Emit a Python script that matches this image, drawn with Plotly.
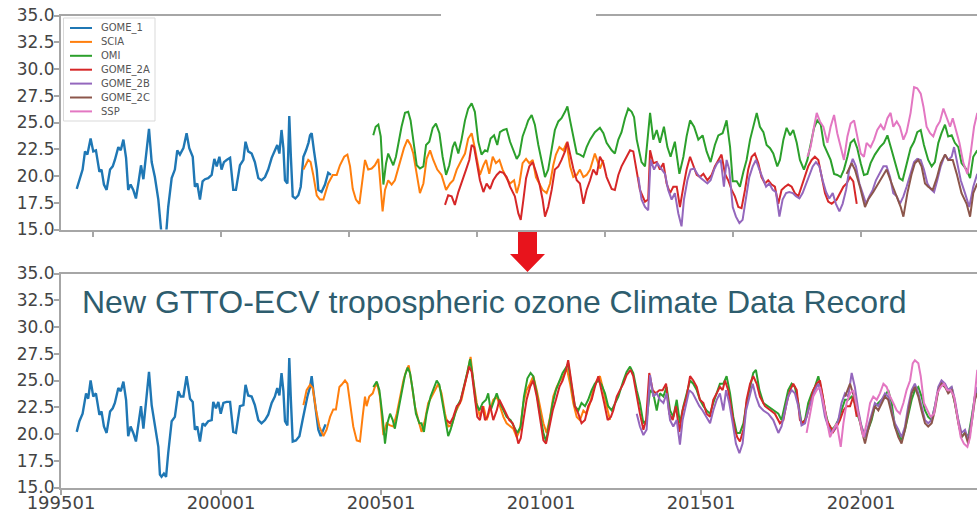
import plotly.graph_objects as go

# ---------------------------------------------------------------------------
# Monthly tropospheric ozone columns (DU). Each series is a list of
# (months since 1995-01, value) pairs.
# ---------------------------------------------------------------------------
SERIES = ["GOME_1", "SCIA", "OMI", "GOME_2A", "GOME_2B", "GOME_2C", "SSP"]
COLORS = ["#1f77b4", "#ff7f0e", "#2ca02c", "#d62728", "#9467bd", "#8c564b", "#e377c2"]

# --- individual sensor records (upper panel) ---
GOME1_RAW = [(5.9, 18.8), (6.9, 19.6), (8.1, 20.6), (9.0, 22.3), (9.9, 22.0), (11.1, 23.5), (12.1, 22.3),
             (13.1, 22.4), (14.4, 20.4), (15.2, 20.6), (16.1, 19.2), (17.1, 18.7), (18.4, 20.6), (19.4, 20.9),
             (20.2, 21.5), (21.5, 22.7), (22.4, 22.4), (23.4, 23.4), (24.4, 21.7), (25.2, 18.7), (26.1, 19.2),
             (27.1, 18.7), (28.1, 17.9), (29.0, 19.3), (30.0, 21.0), (30.9, 19.7), (31.9, 22.1), (33.0, 24.4),
             (34.0, 21.3), (35.2, 19.9), (36.5, 17.8), (37.4, 15.3), (37.7, 14.5), (39.4, 14.5), (40.2, 17.1),
             (41.5, 19.8), (42.7, 20.6), (43.6, 22.4), (44.6, 22.0), (45.9, 22.6), (47.1, 24.0), (48.1, 22.6),
             (49.4, 21.8), (50.2, 19.0), (51.1, 19.3), (52.1, 17.8), (53.1, 19.5), (54.0, 19.7), (55.2, 19.8),
             (56.5, 20.1), (57.5, 21.6), (58.4, 20.9), (59.4, 21.8), (60.2, 20.6), (61.1, 21.3), (62.1, 21.5),
             (63.4, 21.7), (64.6, 18.7), (65.6, 18.7), (67.1, 21.0), (68.4, 21.5), (69.2, 23.2), (70.2, 22.3),
             (71.5, 22.1), (72.7, 21.3), (74.0, 19.8), (75.2, 19.6), (76.5, 19.9), (77.7, 20.6), (79.0, 21.7),
             (80.2, 22.3), (81.1, 22.9), (81.9, 22.1), (82.7, 24.3), (83.4, 22.6), (84.0, 19.6), (84.9, 19.3),
             (85.6, 25.6), (86.2, 21.8), (86.9, 18.1), (87.9, 17.9), (89.0, 18.2), (89.9, 19.0), (90.9, 21.8),
             (91.9, 22.4), (92.8, 23.1), (93.4, 23.8), (94.0, 24.0), (94.9, 22.3), (95.9, 20.6), (96.5, 18.7),
             (97.7, 18.5), (99.0, 19.2), (100.2, 20.3), (101.2, 20.1)]

SCIA_RAW = [(90.9, 20.6), (92.7, 21.5), (93.6, 21.3), (94.6, 20.1), (95.9, 18.2), (97.1, 17.8), (98.4, 17.8),
            (99.2, 18.5), (100.2, 19.3), (101.9, 20.1), (103.4, 20.1), (104.6, 21.0), (106.2, 21.8), (107.4, 22.0),
            (108.4, 20.9), (109.4, 18.8), (110.6, 17.8), (111.9, 17.4), (113.1, 19.9), (114.0, 21.5), (115.2, 20.6),
            (116.5, 20.7), (117.7, 21.0), (119.0, 21.6), (120.6, 16.7), (121.5, 18.7), (122.7, 19.6), (124.0, 19.2),
            (125.2, 19.6), (126.9, 21.2), (128.6, 22.6), (129.9, 23.4), (131.1, 22.9), (132.1, 22.1), (133.4, 20.2),
            (134.6, 18.4), (135.9, 19.3), (137.1, 21.6), (138.4, 22.4), (139.6, 21.5), (141.1, 20.6), (142.7, 20.1),
            (144.4, 18.7), (145.9, 19.3), (147.1, 19.6), (148.4, 20.6), (150.2, 21.5), (151.5, 22.1), (152.7, 23.5),
            (154.0, 24.0), (155.2, 22.6), (157.1, 20.1), (158.4, 21.0), (159.4, 21.5), (160.6, 20.2), (161.9, 21.8),
            (163.1, 21.2), (164.4, 21.5), (165.6, 20.6), (167.1, 19.8), (168.4, 19.3), (169.9, 19.6), (170.9, 18.4),
            (171.9, 19.3), (173.1, 21.2), (174.4, 21.6), (175.6, 21.2), (176.9, 21.5), (178.1, 19.9), (179.4, 19.3),
            (180.6, 18.7), (182.1, 18.4), (183.4, 19.3), (184.6, 21.0), (185.6, 22.0), (186.9, 22.7), (188.4, 22.4),
            (189.6, 23.1), (190.9, 20.9), (192.1, 19.9), (193.4, 20.1), (194.6, 20.6), (195.9, 19.9), (197.1, 20.1),
            (198.4, 20.6), (200.2, 22.1), (200.9, 21.5), (202.1, 20.7), (203.4, 21.5)]

OMI_RAW = [(117.1, 23.8), (118.0, 24.6), (119.0, 24.8), (119.9, 23.7), (120.9, 19.2), (121.9, 21.2), (122.7, 22.1),
           (123.6, 21.5), (124.6, 21.0), (125.6, 21.8), (126.5, 23.1), (127.7, 24.6), (129.0, 25.9), (130.2, 26.0),
           (131.1, 25.2), (132.1, 23.2), (133.4, 21.0), (134.6, 20.7), (135.9, 20.9), (136.9, 22.9), (138.1, 23.2),
           (139.4, 24.5), (140.6, 24.9), (141.9, 24.0), (143.1, 21.8), (144.4, 20.1), (145.6, 21.0), (146.9, 22.7),
           (147.7, 23.2), (149.0, 22.1), (150.2, 23.4), (151.5, 25.2), (152.7, 26.3), (154.0, 26.8), (155.2, 26.0),
           (156.5, 23.2), (157.7, 22.0), (159.0, 22.4), (159.9, 22.3), (161.1, 23.5), (162.4, 23.8), (163.6, 22.9),
           (164.6, 24.1), (165.9, 24.3), (167.1, 24.4), (168.4, 23.2), (169.6, 22.4), (170.9, 21.6), (171.9, 22.0),
           (173.1, 23.7), (174.4, 24.6), (175.2, 25.2), (176.5, 25.7), (177.7, 24.8), (179.0, 22.9), (180.2, 21.5),
           (181.5, 19.9), (182.7, 20.6), (184.0, 22.7), (185.2, 24.3), (186.5, 25.1), (187.7, 25.4), (189.0, 26.0),
           (189.9, 26.5), (190.9, 25.2), (192.1, 23.7), (193.4, 22.1), (194.6, 22.0), (195.9, 21.8), (197.1, 22.7),
           (198.4, 23.4), (200.2, 24.1), (202.1, 24.5), (203.4, 24.0), (204.6, 23.1), (206.5, 22.4), (207.7, 22.1),
           (209.0, 23.4), (210.2, 24.1), (211.5, 25.4), (212.7, 26.3), (214.0, 26.0), (214.9, 25.5), (215.9, 23.4),
           (217.7, 21.3), (219.0, 20.9), (220.9, 25.9), (222.1, 23.4), (223.4, 24.3), (224.6, 23.1), (226.1, 24.6),
           (227.4, 22.7), (228.6, 21.8), (230.2, 23.2), (231.9, 20.2), (233.4, 21.8), (234.6, 23.7), (235.9, 25.2),
           (237.4, 24.6), (239.0, 23.4), (240.6, 23.8), (242.1, 22.3), (243.6, 21.3), (245.2, 22.9), (246.5, 23.8),
           (248.1, 24.0), (249.6, 25.2), (250.9, 22.7), (251.9, 19.5), (253.4, 19.5), (254.6, 19.0), (255.9, 20.4),
           (257.1, 21.5), (258.4, 23.4), (259.6, 24.6), (260.9, 25.9), (262.1, 24.6), (263.4, 24.1), (264.6, 22.9),
           (265.9, 22.6), (267.1, 22.1), (268.6, 20.9), (269.6, 21.5), (270.9, 23.4), (272.1, 24.5), (273.4, 23.8),
           (274.6, 24.3), (275.9, 23.1), (277.1, 21.5), (278.6, 20.6), (279.9, 21.5), (281.1, 22.9), (282.4, 24.5),
           (283.6, 25.2), (284.9, 24.8), (286.1, 22.9), (287.4, 22.1), (288.6, 21.5), (289.9, 20.2), (291.1, 20.1),
           (292.4, 19.9), (293.6, 20.6), (294.9, 21.8), (296.1, 23.1), (297.4, 23.4), (298.6, 22.6), (299.9, 21.2),
           (301.1, 20.1), (302.4, 20.2), (303.6, 21.2), (305.2, 22.0), (307.1, 22.7), (308.6, 23.1), (309.9, 23.8),
           (311.5, 22.4), (313.1, 20.9), (314.4, 19.8), (315.6, 19.6), (317.1, 21.2), (318.6, 22.6), (319.9, 23.2),
           (321.1, 24.1), (322.4, 24.3), (323.6, 22.9), (325.2, 21.5), (326.5, 20.9), (327.7, 21.3), (329.0, 23.1),
           (330.2, 24.0), (331.5, 24.8), (332.7, 23.7), (334.0, 23.8), (335.2, 23.1), (336.5, 22.7), (337.7, 21.2),
           (339.6, 20.6), (340.9, 19.8), (342.1, 21.8), (343.6, 22.4)]

GOME2A_RAW = [(144.0, 17.3), (145.2, 18.2), (146.5, 18.1), (147.7, 17.3), (149.0, 18.5), (150.2, 19.3), (151.9, 20.6),
              (153.1, 21.5), (154.0, 22.9), (154.9, 22.7), (155.9, 21.2), (157.1, 19.6), (158.4, 18.5), (159.6, 19.3),
              (160.9, 18.8), (162.1, 19.6), (163.4, 20.1), (164.6, 20.4), (165.9, 20.3), (167.1, 19.9), (168.4, 19.0),
              (170.2, 18.1), (171.5, 16.5), (172.4, 15.9), (173.4, 17.8), (174.4, 19.8), (175.6, 20.9), (176.9, 21.3),
              (178.1, 20.4), (179.4, 19.3), (180.6, 17.8), (181.5, 16.2), (182.7, 17.1), (184.0, 18.7), (185.2, 20.6),
              (186.5, 20.9), (187.7, 21.5), (189.0, 22.3), (189.9, 23.2), (190.9, 22.1), (192.1, 20.7), (193.4, 19.6),
              (194.6, 19.3), (195.9, 17.4), (197.1, 18.7), (198.4, 19.6), (199.6, 20.6), (200.9, 20.1), (202.1, 21.8),
              (203.4, 21.2), (204.6, 19.9), (206.5, 18.8), (207.7, 18.7), (209.0, 20.1), (210.2, 20.9), (212.1, 21.8),
              (213.4, 22.4), (214.6, 22.3), (215.9, 20.6), (217.1, 18.7), (219.0, 17.6), (220.2, 17.8), (220.9, 22.4),
              (222.1, 21.2), (223.4, 21.3), (224.6, 20.6), (225.9, 21.2), (227.1, 19.3), (228.4, 18.4), (229.6, 19.0),
              (230.9, 19.0), (232.1, 17.1), (233.4, 19.0), (234.6, 20.6), (235.9, 21.8), (237.1, 20.9), (238.4, 20.1),
              (239.6, 19.9), (240.9, 20.2), (242.4, 19.6), (244.0, 20.1), (245.2, 20.9), (246.5, 21.5), (247.7, 22.0),
              (249.0, 20.2), (250.2, 19.6), (251.5, 18.7), (252.7, 18.1), (254.0, 17.1), (255.2, 17.0), (256.5, 18.7),
              (257.7, 20.6), (259.0, 21.8), (260.2, 22.1), (261.5, 21.2), (262.7, 19.9), (264.0, 19.3), (265.2, 19.6),
              (266.5, 19.2), (267.7, 19.0), (269.0, 17.4), (270.2, 18.7), (271.5, 19.0), (272.7, 19.2), (274.0, 19.0),
              (275.2, 18.4), (276.5, 18.1), (277.7, 19.0), (279.0, 19.9), (280.2, 20.9), (281.5, 21.5), (282.7, 21.8),
              (284.0, 21.5), (285.2, 19.9), (286.5, 18.4), (287.7, 17.6), (289.0, 17.4), (290.9, 17.8), (292.1, 18.4),
              (293.4, 19.0), (294.6, 19.3), (295.9, 19.9), (297.1, 19.5), (298.4, 17.4)]

GOME2B_RAW = [(216.5, 19.9), (217.7, 17.8), (219.0, 17.1), (220.2, 16.8), (221.1, 21.5), (222.4, 20.6), (223.6, 21.2),
              (225.2, 20.6), (226.5, 20.2), (227.7, 18.7), (229.0, 17.8), (230.2, 18.4), (231.5, 16.5), (232.7, 15.3),
              (233.6, 17.8), (234.9, 19.6), (236.1, 20.6), (237.4, 20.7), (238.6, 20.2), (239.9, 19.8), (241.1, 19.6),
              (242.4, 19.3), (243.6, 19.6), (244.9, 20.6), (246.1, 21.2), (247.4, 21.5), (248.6, 19.0), (249.6, 21.5),
              (250.6, 20.6), (251.9, 17.1), (253.1, 16.2), (254.4, 15.6), (255.6, 15.9), (256.9, 17.8), (258.1, 19.9),
              (259.4, 20.9), (260.6, 21.5), (261.9, 20.6), (263.1, 19.9), (264.4, 19.0), (265.6, 19.3), (266.9, 18.7),
              (268.1, 18.5), (269.4, 16.2), (270.6, 17.8), (271.9, 18.4), (273.1, 18.5), (274.4, 18.4), (275.6, 18.1),
              (276.9, 17.9), (278.1, 18.4), (279.4, 19.3), (280.6, 20.2), (281.9, 20.9), (283.1, 21.3), (284.4, 20.9),
              (285.6, 19.6), (286.9, 18.5), (288.1, 17.9), (289.4, 18.4), (290.6, 17.4), (291.9, 16.7), (293.1, 17.4),
              (294.4, 18.7), (295.6, 20.6), (296.9, 21.6), (298.1, 20.9), (299.4, 19.3), (300.6, 18.4), (301.9, 17.4),
              (303.1, 18.1), (304.4, 18.7), (305.6, 19.6), (306.9, 20.2), (308.4, 20.9), (309.6, 20.9), (310.9, 19.9),
              (312.1, 18.4), (313.4, 18.1), (314.6, 17.4), (315.9, 18.1), (317.1, 19.0), (318.6, 20.2), (319.9, 21.3),
              (321.1, 21.6), (322.4, 21.5), (323.6, 20.6), (324.9, 19.3), (326.1, 18.8), (327.4, 18.5), (328.6, 19.6),
              (329.9, 20.9), (331.5, 22.0), (332.7, 21.5), (334.0, 21.8), (334.9, 22.7), (336.1, 21.2), (337.4, 19.6),
              (339.0, 18.4), (340.6, 17.1), (342.1, 19.0), (343.6, 20.2)]

GOME2C_RAW = [(294.6, 20.2), (296.5, 21.2), (297.7, 20.6), (299.6, 19.0), (301.5, 17.1), (302.7, 17.8), (304.6, 18.5),
              (306.5, 19.3), (308.4, 20.2), (309.6, 20.6), (311.5, 19.3), (313.4, 18.1), (314.9, 17.1), (315.9, 16.2),
              (317.4, 18.4), (319.0, 20.2), (320.2, 21.2), (321.5, 21.5), (322.7, 20.9), (324.0, 19.3), (325.2, 19.0),
              (326.9, 18.7), (328.4, 19.8), (329.9, 21.2), (331.5, 22.0), (332.7, 21.5), (334.4, 21.5), (335.9, 20.2),
              (337.7, 18.4), (339.6, 17.4), (340.9, 16.2), (342.1, 18.4), (343.6, 19.3)]

SSP_RAW = [(279.9, 21.8), (281.1, 22.7), (282.4, 24.6), (283.4, 25.9), (284.6, 25.1), (285.9, 24.6), (287.4, 23.1),
           (288.6, 24.6), (289.9, 25.7), (291.1, 24.0), (292.4, 22.7), (293.6, 21.5), (294.9, 23.7), (296.1, 24.9),
           (297.4, 25.2), (298.6, 23.7), (299.9, 22.1), (301.1, 21.8), (302.1, 23.1), (303.6, 22.7), (304.9, 23.4),
           (306.1, 24.3), (307.4, 24.8), (308.6, 24.3), (309.9, 25.4), (311.1, 25.9), (312.1, 24.6), (313.4, 25.1),
           (314.6, 24.6), (315.9, 23.4), (317.1, 24.1), (318.6, 25.9), (319.9, 28.3), (321.1, 28.2), (322.4, 27.7),
           (323.4, 26.5), (324.6, 24.6), (325.9, 24.0), (327.1, 23.7), (328.4, 24.6), (329.6, 25.1), (330.9, 26.3),
           (332.1, 25.5), (333.4, 24.6), (334.4, 25.4), (335.6, 24.3), (336.9, 23.1), (338.4, 21.2), (339.9, 20.2),
           (341.1, 22.1), (342.4, 24.6), (343.6, 25.9)]

# --- merged GTTO-ECV climate data record (lower panel) ---
GOME1_CDR = [(5.9, 20.2), (6.9, 21.2), (8.1, 21.9), (9.4, 23.8), (10.2, 23.3), (11.1, 25.0), (12.1, 23.5),
             (13.1, 23.8), (14.4, 21.8), (15.2, 22.1), (16.1, 20.7), (17.1, 20.1), (18.4, 22.1), (19.4, 22.4),
             (20.2, 22.9), (21.5, 24.3), (22.4, 24.0), (23.4, 24.9), (24.4, 23.2), (25.2, 19.8), (26.1, 20.7),
             (27.1, 20.1), (28.1, 19.3), (29.0, 20.7), (30.0, 22.6), (30.9, 20.5), (31.9, 23.2), (33.0, 25.8),
             (34.0, 22.7), (35.2, 21.0), (36.5, 18.8), (37.1, 16.2), (37.7, 16.0), (38.6, 16.3), (39.4, 16.0),
             (40.2, 18.2), (41.5, 21.2), (42.7, 21.6), (44.0, 24.0), (44.9, 23.5), (45.9, 23.5), (47.1, 25.4),
             (48.4, 23.3), (49.4, 23.0), (50.2, 20.4), (51.1, 20.7), (52.1, 19.3), (53.1, 21.0), (54.0, 20.8),
             (55.2, 21.2), (56.5, 21.3), (57.1, 23.0), (58.1, 22.4), (59.0, 23.0), (59.9, 21.9), (60.9, 22.9),
             (62.1, 23.0), (63.4, 23.0), (64.6, 20.2), (65.6, 20.1), (67.1, 22.6), (68.4, 22.7), (69.2, 24.6),
             (70.2, 23.6), (71.5, 23.5), (72.7, 22.7), (74.0, 21.3), (75.2, 21.0), (76.5, 21.3), (77.7, 21.8),
             (79.0, 22.9), (80.2, 23.5), (81.1, 24.3), (81.9, 23.6), (82.7, 25.7), (83.4, 24.0), (84.0, 21.2),
             (84.9, 20.8), (85.6, 27.1), (86.2, 23.2), (86.9, 19.3), (88.1, 19.4), (89.4, 19.8), (90.6, 21.3),
             (91.5, 22.6), (92.4, 23.5), (93.4, 24.4), (94.0, 25.4), (94.6, 24.1), (95.6, 22.0), (96.5, 20.4),
             (97.4, 19.8), (98.4, 20.5), (99.2, 20.9)]

SCIA_CDR = [(90.9, 22.7), (92.1, 24.1), (93.4, 24.6), (94.4, 24.3), (95.6, 22.3), (96.9, 20.7), (98.4, 19.8),
            (99.6, 20.4), (100.9, 21.6), (102.1, 22.3), (103.1, 22.3), (104.4, 24.4), (105.2, 24.6), (106.5, 25.0),
            (107.4, 24.7), (108.4, 22.9), (109.6, 20.7), (110.9, 19.4), (112.1, 19.3), (113.1, 21.6), (114.0, 23.5),
            (114.6, 22.6), (115.6, 23.5), (116.9, 23.8), (117.7, 24.4), (118.6, 24.7), (119.6, 23.5), (120.9, 19.9),
            (122.1, 21.0), (123.4, 20.8), (124.6, 20.7), (125.9, 21.9), (127.1, 23.5), (128.4, 25.0), (129.6, 26.0),
            (130.4, 26.4), (131.5, 24.7), (132.7, 22.6), (134.0, 21.3), (135.2, 20.2), (136.5, 21.3), (137.7, 22.9),
            (139.0, 23.5), (140.2, 24.1), (141.5, 24.7), (142.7, 23.8), (144.0, 21.9), (145.2, 20.7), (146.5, 20.8),
            (147.7, 21.9), (149.0, 22.6), (150.2, 23.2), (151.5, 24.7), (152.7, 26.0), (153.6, 27.2), (154.6, 25.0),
            (155.9, 22.9), (157.1, 21.6), (158.4, 22.6), (159.6, 21.3), (160.9, 22.2), (162.1, 23.2), (163.4, 23.5),
            (164.6, 22.6), (165.9, 21.6), (167.1, 21.0), (168.4, 20.7), (169.6, 20.5), (170.9, 19.7), (172.1, 20.4),
            (173.4, 22.9), (174.6, 24.1), (175.9, 24.7), (177.1, 25.4), (178.4, 24.1), (179.6, 22.6), (180.9, 21.0),
            (182.1, 20.1), (183.4, 21.6), (184.6, 23.5), (185.9, 24.4), (187.1, 25.0), (188.4, 25.4), (189.6, 26.2),
            (190.9, 24.7), (192.1, 22.9), (193.4, 21.6), (194.6, 21.3), (195.9, 22.2), (197.1, 21.9), (198.4, 22.9),
            (199.6, 24.1), (200.9, 25.0), (202.1, 25.4), (203.4, 24.1), (204.6, 22.6), (205.9, 21.3)]

OMI_CDR = [(117.1, 24.4), (118.4, 24.9), (119.4, 24.1), (120.6, 21.6), (121.5, 19.1), (122.4, 21.0), (123.4, 21.9),
           (124.4, 21.3), (125.2, 20.5), (126.5, 22.2), (127.7, 24.1), (129.0, 25.5), (130.0, 26.2), (130.9, 25.7),
           (131.9, 24.1), (133.1, 21.9), (134.4, 21.0), (135.2, 21.0), (136.1, 20.2), (137.1, 21.9), (138.6, 23.5),
           (139.9, 24.4), (140.9, 25.0), (141.9, 24.6), (143.1, 22.9), (144.4, 21.0), (145.2, 19.8), (146.1, 20.4),
           (147.4, 21.6), (148.6, 22.6), (149.9, 23.2), (151.1, 24.4), (152.4, 25.8), (153.4, 27.0), (154.4, 25.4),
           (155.6, 22.9), (156.9, 22.2), (158.1, 22.9), (159.4, 23.2), (160.2, 23.8), (161.1, 22.2), (162.1, 22.9),
           (163.4, 23.8), (164.6, 22.9), (165.9, 22.2), (167.1, 21.6), (168.6, 21.3), (169.9, 20.7), (171.1, 20.1),
           (172.4, 20.7), (173.6, 23.5), (174.9, 25.2), (176.1, 25.7), (177.1, 25.4), (178.4, 23.8), (179.6, 21.9),
           (180.9, 20.1), (181.9, 19.3), (183.1, 21.0), (184.4, 22.9), (185.6, 24.1), (186.9, 25.0), (188.1, 25.7),
           (189.4, 26.2), (190.2, 26.6), (191.5, 24.4), (192.7, 22.6), (194.0, 22.2), (195.2, 22.9), (196.5, 22.6),
           (197.7, 23.2), (199.0, 24.1), (200.2, 24.7), (201.5, 25.0), (202.7, 24.6), (204.0, 23.8), (205.2, 22.6),
           (206.5, 22.2), (207.7, 22.9), (209.0, 23.5), (210.9, 25.0), (212.1, 25.8), (213.4, 26.3), (214.6, 25.7),
           (215.9, 24.1), (217.1, 22.9), (218.4, 21.0), (219.6, 21.3), (220.9, 24.1), (222.1, 23.8), (223.4, 22.2),
           (224.6, 23.8), (225.9, 23.5), (227.1, 24.4), (228.4, 22.2), (229.6, 21.6), (230.9, 23.2), (232.1, 21.0),
           (233.4, 22.6), (234.6, 23.8), (235.9, 25.0), (237.1, 24.7), (238.4, 24.1), (239.6, 23.2), (240.9, 22.6),
           (242.1, 22.2), (243.4, 21.9), (244.6, 22.9), (245.9, 23.8), (247.1, 24.7), (248.4, 24.7), (249.6, 25.4),
           (250.9, 23.8), (252.1, 21.6), (253.4, 20.1), (254.6, 20.1), (255.9, 21.0), (257.1, 22.9), (258.4, 24.4),
           (259.6, 25.7), (260.6, 26.0), (261.9, 24.1), (263.4, 22.9), (265.2, 22.6), (267.1, 22.2), (269.0, 21.9),
           (270.2, 21.3), (271.5, 22.9), (272.7, 24.1), (274.0, 24.7), (275.2, 24.4), (276.5, 22.9), (277.7, 21.0),
           (279.0, 21.3), (280.2, 22.9), (281.5, 23.8), (282.7, 24.4), (284.0, 25.4), (285.2, 24.1), (286.5, 22.2),
           (287.7, 21.0), (289.0, 20.4), (290.2, 20.7), (291.5, 21.3), (292.7, 22.2), (294.0, 23.2), (295.2, 23.2),
           (296.5, 23.5), (297.7, 22.9), (299.0, 21.6), (300.2, 20.7), (301.5, 19.7), (302.7, 20.4), (304.0, 21.3),
           (305.2, 22.6), (306.5, 22.9), (307.7, 23.2), (309.0, 23.5), (310.2, 24.1), (311.5, 22.9), (312.7, 20.7),
           (314.0, 20.1), (315.2, 19.4), (316.5, 20.4), (317.7, 21.9), (319.0, 23.2), (320.2, 24.1), (321.5, 24.4),
           (322.7, 23.5), (324.0, 22.2), (325.2, 21.6), (326.5, 21.3), (327.7, 22.6), (329.0, 24.1), (330.2, 24.7),
           (331.5, 24.4), (332.7, 24.1), (334.0, 24.4), (335.2, 22.9), (336.5, 21.3), (337.7, 19.7), (339.0, 20.1),
           (340.2, 19.7), (341.5, 21.6), (342.7, 23.5), (343.6, 24.1)]

GOME2A_CDR = [(144.6, 21.3), (145.9, 21.0), (147.1, 21.6), (148.4, 22.6), (149.6, 22.9), (150.9, 24.1), (152.1, 25.4),
              (153.1, 26.3), (154.0, 25.8), (155.2, 23.2), (156.1, 21.6), (157.1, 21.3), (158.1, 22.6), (159.0, 21.3),
              (159.9, 21.6), (160.9, 22.7), (162.1, 21.3), (163.4, 22.2), (164.4, 23.2), (165.6, 22.6), (166.9, 21.9),
              (168.1, 21.3), (169.4, 21.0), (170.6, 20.1), (171.5, 19.1), (172.4, 19.6), (173.4, 21.3), (174.6, 23.2),
              (175.9, 24.4), (177.1, 25.0), (178.4, 23.5), (179.6, 21.6), (180.9, 19.4), (181.9, 19.1), (183.1, 20.7),
              (184.4, 22.2), (185.6, 23.2), (186.9, 24.4), (188.1, 25.0), (189.4, 26.0), (190.2, 26.9), (191.5, 24.4),
              (192.7, 22.6), (194.0, 21.9), (195.2, 21.0), (196.5, 21.3), (197.7, 22.6), (199.0, 23.2), (200.2, 24.4),
              (201.5, 25.4), (202.5, 24.1), (203.7, 22.9), (205.0, 21.3), (206.2, 21.6), (207.1, 22.2), (208.4, 23.5),
              (209.6, 24.1), (210.9, 24.7), (212.1, 25.5), (213.6, 26.0), (214.6, 25.4), (215.9, 23.5), (217.1, 21.9),
              (218.4, 20.4), (219.4, 21.3), (220.6, 25.7), (221.9, 24.1), (223.1, 23.8), (224.4, 24.1), (225.6, 24.1),
              (226.9, 24.7), (228.1, 21.9), (229.4, 21.3), (230.6, 22.6), (231.9, 20.2), (233.1, 22.2), (234.6, 23.5),
              (235.9, 25.4), (237.1, 25.0), (238.4, 24.4), (239.6, 23.2), (240.9, 22.9), (242.1, 21.9), (243.4, 21.6),
              (244.6, 23.2), (245.9, 23.8), (247.1, 24.4), (248.1, 24.1), (249.0, 25.0), (250.2, 24.1), (251.5, 22.2),
              (252.7, 20.4), (253.6, 19.7), (254.6, 19.3), (255.9, 20.4), (257.1, 23.2), (258.4, 24.7), (259.6, 25.4),
              (260.9, 24.7), (262.1, 23.5), (264.0, 22.6), (265.9, 22.2), (267.7, 21.9), (269.6, 21.0), (270.9, 21.3),
              (272.1, 22.9), (273.4, 24.1), (274.6, 24.7), (275.9, 24.1), (277.1, 21.3), (278.4, 21.0), (279.6, 21.6),
              (280.9, 22.9), (282.1, 24.1), (283.4, 24.7), (284.6, 25.0), (285.9, 23.2), (287.1, 21.3), (288.4, 20.7),
              (289.6, 20.2), (290.9, 20.7), (292.1, 21.3), (293.4, 22.2), (294.6, 22.6), (295.9, 22.6), (297.1, 23.5),
              (298.4, 21.6)]

GOME2B_CDR = [(215.9, 21.9), (217.1, 20.7), (218.4, 19.9), (219.6, 20.4), (220.9, 25.5), (222.1, 23.5), (223.4, 23.8),
              (224.6, 23.2), (225.9, 22.9), (227.1, 23.8), (228.4, 21.3), (229.6, 20.7), (230.9, 21.3), (232.1, 19.0),
              (233.1, 21.3), (234.4, 22.9), (235.6, 24.1), (236.9, 23.8), (238.1, 23.2), (239.4, 22.6), (240.6, 22.2),
              (241.9, 21.6), (243.4, 21.0), (244.6, 22.2), (245.9, 23.2), (247.1, 23.8), (248.4, 22.2), (249.4, 24.1),
              (250.6, 22.9), (251.9, 21.0), (253.1, 19.1), (254.4, 18.2), (255.6, 19.1), (256.9, 22.2), (258.1, 23.5),
              (259.4, 24.7), (260.6, 23.5), (261.9, 22.6), (263.4, 22.2), (265.2, 21.9), (267.1, 21.3), (269.0, 20.1),
              (270.2, 20.7), (271.5, 22.2), (272.7, 23.5), (274.0, 24.1), (275.2, 23.8), (276.5, 22.6), (277.7, 20.8),
              (279.0, 21.0), (280.2, 22.2), (281.5, 23.2), (282.7, 24.1), (284.0, 24.7), (285.2, 23.5), (286.5, 21.6),
              (287.7, 20.7), (289.0, 20.1), (290.2, 20.5), (291.5, 21.3), (292.7, 22.9), (294.0, 23.8), (295.2, 23.5),
              (296.5, 25.7), (297.7, 24.4), (299.0, 22.2), (300.2, 20.7), (301.5, 19.7), (302.7, 20.7), (304.0, 21.9),
              (305.2, 22.9), (306.5, 22.6), (307.7, 23.2), (309.0, 23.8), (310.2, 23.5), (311.5, 22.2), (312.7, 21.0),
              (314.0, 20.4), (315.2, 19.7), (316.5, 20.7), (317.7, 22.6), (319.0, 24.1), (320.2, 24.7), (321.5, 23.8),
              (322.7, 22.6), (324.0, 21.3), (325.2, 21.0), (326.5, 21.3), (327.7, 22.6), (329.0, 24.4), (330.2, 25.0),
              (331.5, 24.7), (332.7, 24.1), (334.0, 24.4), (335.2, 23.2), (336.5, 21.3), (337.7, 20.1), (339.0, 20.4),
              (340.2, 19.4), (341.5, 21.3), (342.7, 23.5), (343.6, 24.4)]

GOME2C_CDR = [(294.0, 23.5), (295.9, 24.7), (297.7, 23.2), (299.0, 21.9), (300.2, 20.4), (301.5, 19.1), (302.7, 20.4),
              (304.0, 21.6), (305.2, 22.6), (306.5, 22.2), (307.7, 22.9), (309.0, 23.5), (310.2, 23.2), (311.5, 21.9),
              (312.7, 20.7), (314.0, 19.7), (315.2, 19.1), (316.5, 20.4), (317.7, 22.2), (319.0, 23.8), (320.2, 24.4),
              (321.5, 23.5), (322.7, 22.2), (324.0, 21.0), (325.2, 20.7), (326.5, 21.0), (327.7, 22.2), (329.0, 24.1),
              (330.2, 24.7), (331.5, 24.4), (332.7, 23.8), (334.0, 24.1), (335.2, 22.9), (336.5, 21.0), (337.7, 19.7),
              (339.0, 20.1), (340.2, 19.1), (341.5, 21.0), (342.7, 23.2), (343.6, 23.8)]

SSP_CDR = [(279.6, 20.1), (280.9, 21.9), (282.1, 23.5), (283.4, 24.1), (284.6, 24.4), (285.9, 22.9), (287.1, 21.3),
           (288.4, 19.7), (289.6, 20.4), (290.9, 21.0), (292.4, 18.8), (293.4, 21.0), (294.6, 22.9), (295.9, 23.8),
           (297.1, 24.1), (298.4, 22.6), (299.6, 21.0), (300.9, 19.7), (302.1, 21.0), (303.4, 22.9), (304.6, 23.5),
           (305.9, 23.2), (307.1, 23.8), (308.4, 24.7), (309.6, 24.4), (310.9, 23.5), (312.1, 22.9), (313.4, 22.2),
           (314.6, 21.9), (315.9, 22.9), (317.1, 24.1), (318.4, 25.0), (319.4, 26.6), (320.2, 26.9), (321.5, 26.6),
           (322.4, 25.4), (323.6, 22.9), (324.9, 22.2), (326.1, 21.6), (327.4, 21.9), (328.6, 23.8), (329.9, 24.4),
           (331.1, 24.7), (332.4, 24.1), (333.6, 24.1), (334.9, 23.5), (336.1, 21.6), (337.4, 19.7), (338.6, 19.1),
           (339.9, 18.8), (340.9, 19.7), (342.1, 22.2), (343.6, 26.0)]

RAW = [GOME1_RAW, SCIA_RAW, OMI_RAW, GOME2A_RAW, GOME2B_RAW, GOME2C_RAW, SSP_RAW]
CDR = [GOME1_CDR, SCIA_CDR, OMI_CDR, GOME2A_CDR, GOME2B_CDR, GOME2C_CDR, SSP_CDR]

Y_TICKS = [15.0, 17.5, 20.0, 22.5, 25.0, 27.5, 30.0, 32.5, 35.0]
X_TICKS = [1995, 2000, 2005, 2010, 2015, 2020]
X_TICKTEXT = ["199501", "200001", "200501", "201001", "201501", "202001"]
TOP_TICKS = [1996, 2000, 2004, 2008, 2012, 2016, 2020]
TITLE = "New GTTO-ECV tropospheric ozone Climate Data Record"

# ---------------------------------------------------------------------------
W, H = 977, 512
PX_PER_YEAR = 32.0
LEFT = 61.0
X_RANGE = [1995.0, 1995.0 + (W - LEFT) / PX_PER_YEAR]


def px(x):
    return x / W


def py(y):
    return 1 - y / H


def years(pairs):
    return [1995 + m / 12.0 for m, _ in pairs], [v for _, v in pairs]


fig = go.Figure()

for name, color, pairs in zip(SERIES, COLORS, RAW):
    xs, ys = years(pairs)
    fig.add_trace(go.Scatter(x=xs, y=ys, mode="lines", name=name, showlegend=False,
                             line=dict(color=color, width=2.4 if name == "GOME_1" else 2.0),
                             xaxis="x", yaxis="y"))

for name, color, pairs in zip(SERIES, COLORS, CDR):
    xs, ys = years(pairs)
    fig.add_trace(go.Scatter(x=xs, y=ys, mode="lines", name=name, showlegend=False,
                             line=dict(color=color, width=2.4 if name == "GOME_1" else 2.0),
                             xaxis="x2", yaxis="y2"))

axis_common = dict(showline=True, linecolor="#a6a6a6", linewidth=2, ticks="outside",
                   ticklen=5, tickwidth=1.5, tickcolor="#a6a6a6", showgrid=False, zeroline=False,
                   automargin=False)
ytick_font = dict(family="DejaVu Sans", size=17, color="#444444")

fig.update_layout(
    width=W, height=H,
    margin=dict(l=0, r=0, t=0, b=0, pad=0, autoexpand=False),
    paper_bgcolor="white", plot_bgcolor="white",
    showlegend=False,
    xaxis=dict(domain=[px(LEFT), 1], range=X_RANGE, anchor="y", mirror=True,
               tickvals=TOP_TICKS, showticklabels=False, **axis_common),
    yaxis=dict(domain=[py(229.5), py(15.5)], range=[15, 35], anchor="x",
               tickvals=Y_TICKS, ticktext=[f"{v:.1f}" for v in Y_TICKS],
               tickfont=ytick_font, ticklabelstandoff=-4, **axis_common),
    xaxis2=dict(domain=[px(LEFT), 1], range=X_RANGE, anchor="y2", mirror=True,
                tickvals=X_TICKS, ticktext=X_TICKTEXT, ticklabelstandoff=-7,
                tickfont=dict(family="DejaVu Sans", size=18, color="#444444"), **axis_common),
    yaxis2=dict(domain=[py(487.5), py(273.5)], range=[15, 35], anchor="x2",
                tickvals=Y_TICKS, ticktext=[f"{v:.1f}" for v in Y_TICKS],
                tickfont=ytick_font, ticklabelstandoff=-4, **axis_common),
)

shapes = []
annotations = []

# gap in the upper frame line
shapes.append(dict(type="rect", xref="paper", yref="paper", x0=px(441), x1=px(596), y0=py(19), y1=py(10),
                   fillcolor="white", line=dict(width=0), layer="above"))

# red arrow between the panels
arrow = [(518, 232), (537, 232), (537, 254), (545, 254), (527.5, 272), (510, 254), (518, 254)]
path = "M " + " L ".join(f"{px(x):.5f},{py(y):.5f}" for x, y in arrow) + " Z"
shapes.append(dict(type="path", xref="paper", yref="paper", path=path,
                   fillcolor="#e8141c", line=dict(width=0), layer="above"))

# legend box of the upper panel
shapes.append(dict(type="rect", xref="paper", yref="paper", x0=px(63.5), x1=px(155), y0=py(121), y1=py(18),
                   fillcolor="rgba(255,255,255,0.85)", line=dict(color="#d9d9d9", width=1), layer="above"))
for i, (name, color) in enumerate(zip(SERIES, COLORS)):
    yy = 28 + i * 13.9
    shapes.append(dict(type="line", xref="paper", yref="paper", x0=px(70), x1=px(92), y0=py(yy), y1=py(yy),
                       line=dict(color=color, width=2), layer="above"))
    annotations.append(dict(xref="paper", yref="paper", x=px(99), y=py(yy), text=name, showarrow=False,
                            xanchor="left", yanchor="middle",
                            font=dict(family="DejaVu Sans", size=10, color="#555555")))

annotations.append(dict(xref="paper", yref="paper", x=px(80), y=py(302), text=TITLE, showarrow=False,
                        xanchor="left", yanchor="middle",
                        font=dict(family="Liberation Sans", size=32, color="#2e5d6e")))

fig.update_layout(shapes=shapes, annotations=annotations)

fig.write_html("out.html", config={"displayModeBar": False})
